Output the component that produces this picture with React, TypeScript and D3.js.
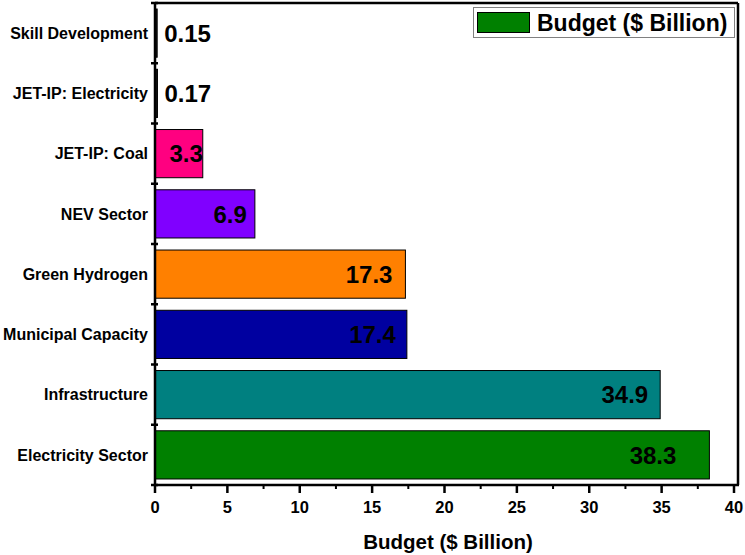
import React from "react";
import * as d3 from "d3";

const categories = [
  "Skill Development",
  "JET-IP: Electricity",
  "JET-IP: Coal",
  "NEV Sector",
  "Green Hydrogen",
  "Municipal Capacity",
  "Infrastructure",
  "Electricity Sector",
];
const values = [0.15, 0.17, 3.3, 6.9, 17.3, 17.4, 34.9, 38.3];
const valueLabels = ["0.15", "0.17", "3.3", "6.9", "17.3", "17.4", "34.9", "38.3"];
const barColors = ["#111111", "#111111", "#FF0080", "#8000FF", "#FF8000", "#0000A0", "#008080", "#008000"];
const xTicks = [0, 5, 10, 15, 20, 25, 30, 35, 40];
const minorTicks = [2.5, 7.5, 12.5, 17.5, 22.5, 27.5, 32.5, 37.5];
const legendLabel = "Budget ($ Billion)";
const axisTitle = "Budget ($ Billion)";

// label placement (pixels from bar end)
const labelInside = [false, false, true, true, true, true, true, true];
const labelGap = [7, 7, 0, 8, 13, 11, 12, 33];

const W = 745;
const H = 555;
const left = 155;
const right = 734;
const top = 3;
const bottom = 485;
const FONT = "'Liberation Sans', Arial, sans-serif";

export default function App() {
  const x = d3.scaleLinear().domain([0, 40]).range([left, right]);
  const y = d3
    .scaleBand<string>()
    .domain(categories)
    .range([top, bottom])
    .paddingInner(0.2)
    .paddingOuter(0.1);
  const boundaries = d3.range(categories.length + 1).map((i) => top + i * ((bottom - top) / categories.length));
  const frameRight = right + 4;

  return (
    <svg
      width={W}
      height={H}
      style={{ position: "absolute", left: 0, top: 0, background: "#fff" }}
      fontFamily={FONT}
      fontWeight="bold"
    >
      {categories.map((c, i) => (
        <rect
          key={c}
          x={x(0)}
          y={y(c)!}
          width={Math.max(x(values[i]) - x(0), 0)}
          height={y.bandwidth()}
          fill={barColors[i]}
          stroke="#000"
          strokeWidth={1}
        />
      ))}
      {categories.map((c, i) => {
        const cy = y(c)! + y.bandwidth() / 2;
        const xe = x(values[i]);
        return labelInside[i] ? (
          <text key={"v" + c} x={xe - labelGap[i]} y={cy} dy="0.36em" textAnchor="end" fontSize={24} fill="#000">
            {valueLabels[i]}
          </text>
        ) : (
          <text key={"v" + c} x={xe + labelGap[i]} y={cy} dy="0.36em" textAnchor="start" fontSize={24} fill="#000">
            {valueLabels[i]}
          </text>
        );
      })}
      {categories.map((c) => (
        <text
          key={"c" + c}
          x={left - 7}
          y={y(c)! + y.bandwidth() / 2}
          dy="0.36em"
          textAnchor="end"
          fontSize={16}
          fill="#000"
        >
          {c}
        </text>
      ))}
      <line x1={left} x2={frameRight} y1={top} y2={top} stroke="#000" strokeWidth={2.5} />
      <line x1={frameRight} x2={frameRight} y1={top} y2={bottom} stroke="#000" strokeWidth={2.5} />
      <line x1={left} x2={left} y1={top} y2={bottom + 1} stroke="#000" strokeWidth={2.5} />
      <line x1={left - 1} x2={frameRight + 1} y1={bottom} y2={bottom} stroke="#000" strokeWidth={2.5} />
      {boundaries.map((b, i) => (
        <line key={"yt" + i} x1={left - 4} x2={left + 3} y1={b} y2={b} stroke="#000" strokeWidth={2.5} />
      ))}
      {xTicks.map((t) => (
        <g key={"xt" + t}>
          <line x1={x(t)} x2={x(t)} y1={bottom} y2={bottom + 8} stroke="#000" strokeWidth={2.5} />
          <text x={x(t)} y={bottom + 22} dy="0.36em" textAnchor="middle" fontSize={16.5} fill="#000">
            {t}
          </text>
        </g>
      ))}
      {minorTicks.map((t) => (
        <line key={"mt" + t} x1={x(t)} x2={x(t)} y1={bottom} y2={bottom + 4} stroke="#000" strokeWidth={2} />
      ))}
      <text x={448} y={542} dy="0.36em" textAnchor="middle" fontSize={20.5} fill="#000">
        {axisTitle}
      </text>
      <rect x={473.5} y={7.5} width={261} height={30} fill="#fff" stroke="#808080" strokeWidth={1} />
      <rect x={477.5} y={12.5} width={52} height={20} fill="#008000" stroke="#000" strokeWidth={1} />
      <text x={537} y={22.5} dy="0.36em" fontSize={23} fill="#000">
        {legendLabel}
      </text>
    </svg>
  );
}
